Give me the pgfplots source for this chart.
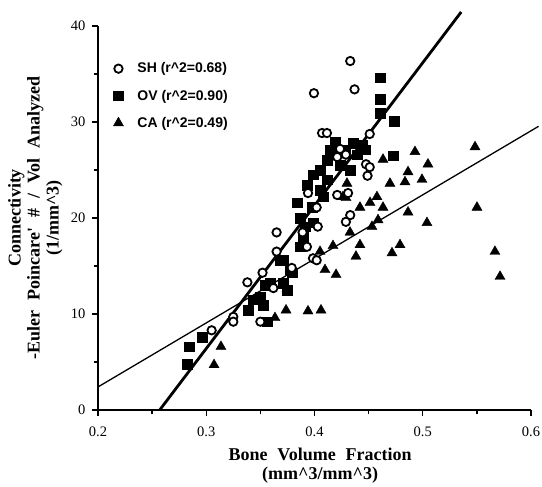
\documentclass[border=0pt]{standalone}
\usepackage{pgfplots}
\pgfplotsset{compat=1.18}
\usepackage{fontspec}
\setmainfont{Liberation Serif}
\setsansfont{Liberation Sans}
\newfontfamily\labelfont[WordSpace=2.2]{Liberation Serif}
\begin{document}
\begin{tikzpicture}
\begin{axis}[
  scale only axis, width=433pt, height=384pt,
  xmin=0.2, xmax=0.6, ymin=0, ymax=40,
  axis x line*=bottom, axis y line*=left,
  axis line style={line width=2pt, -},
  xtick={0.2,0.3,0.4,0.5,0.6}, ytick={0,10,20,30,40},
  minor x tick num=1, minor y tick num=1,
  tick align=outside,
  major tick length=6pt, minor tick length=4pt,
  every tick/.style={black, line width=1.4pt},
  /pgf/number format/assume math mode=true,
  xticklabel style={/pgf/number format/.cd, fixed, fixed zerofill, precision=1, /tikz/.cd, yshift=-7pt},
  yticklabel style={xshift=-3pt},
  tick label style={font=\fontsize{14.5}{14.5}\selectfont},
  label style={font=\labelfont\bfseries\fontsize{18}{19}\selectfont, align=center},
  xlabel={Bone Volume Fraction\\(mm\textasciicircum3/mm\textasciicircum3)},
  ylabel={Connectivity\\-Euler Poincare' \# / Vol Analyzed\\(1/mm\textasciicircum3)},
  xlabel style={at={(axis description cs:0.513,-0.146)}, anchor=center},
  ylabel style={at={(axis description cs:-0.145,0.5)}, anchor=center},
  legend style={at={(axis description cs:0.026,0.915)}, anchor=north west, draw=none, fill=none,
    font=\sffamily\bfseries\fontsize{14}{14}\selectfont, row sep=11.5pt},
  legend cell align=left,
  lgd/.style={legend image code/.code={\draw[##1] plot coordinates {(0pt,0pt)}; \path[draw=none] (-6pt,0pt) -- (17pt,0pt);}},
  clip=false,
]
\addlegendimage{only marks, lgd, mark=*, mark size=4.2pt, mark options={fill=white, draw=black, line width=1.8pt}}
\addlegendentry{SH (r\textasciicircum2=0.68)}
\addlegendimage{only marks, lgd, mark=square*, mark size=4.8pt, mark options={fill=black, draw=black, line width=0.4pt}}
\addlegendentry{OV (r\textasciicircum2=0.90)}
\addlegendimage{only marks, lgd, mark=triangle*, mark size=5.8pt, mark options={fill=black, draw=black, line width=0.4pt}}
\addlegendentry{CA (r\textasciicircum2=0.49)}

% OV
\addplot[forget plot, only marks, mark=square*, mark size=4.8pt, mark options={fill=black, draw=black, line width=0.4pt}] coordinates {
(0.4605,34.6) (0.4605,32.4) (0.4605,30.9) (0.4734,30.1) (0.4725,26.5) (0.4143,27.1)
(0.4356,27.8) (0.4439,27.6) (0.4282,27.1) (0.4393,26.6) (0.4116,26.0) (0.4236,25.5)
(0.4051,25.0) (0.4328,25.0) (0.3986,24.5) (0.4116,24.0) (0.3931,23.4) (0.4051,22.9)
(0.3838,21.6) (0.3977,21.1) (0.4079,22.2) (0.3866,20.0) (0.3912,19.1) (0.3986,19.5)
(0.3866,17.0) (0.3709,15.6) (0.3792,14.3) (0.3709,13.2) (0.3746,12.5) (0.3543,13.0)
(0.3589,13.2) (0.3497,11.8) (0.3432,11.5) (0.3386,10.4) (0.3524,10.9) (0.3561,9.2)
(0.2961,7.6) (0.2841,6.6) (0.2822,4.8) (0.3681,15.6) (0.3774,14.6) (0.3894,18.0)
(0.4189,27.9) (0.4467,27.1)
};
% CA
\addplot[forget plot, only marks, mark=triangle*, mark size=5.8pt, mark options={fill=black, draw=black, line width=0.4pt}] coordinates {
(0.5483,27.4) (0.4928,26.9) (0.5048,25.6) (0.4864,24.8) (0.4697,23.6) (0.4836,23.75)
(0.4993,24.0) (0.4633,26.1) (0.4577,22.2) (0.4300,23.6) (0.4291,22.1) (0.4513,21.6)
(0.4420,21.1) (0.4633,21.1) (0.4864,20.6) (0.5039,19.5) (0.5501,21.1) (0.4587,19.8)
(0.4531,19.1) (0.4328,18.5) (0.4790,17.2) (0.4716,16.35) (0.4420,17.2) (0.4383,16.0)
(0.4171,17.1) (0.4051,16.5) (0.4097,14.6) (0.4199,14.1) (0.5667,16.5) (0.5714,13.9)
(0.3940,10.3) (0.4060,10.4) (0.3737,10.4) (0.3635,9.6) (0.3136,6.6) (0.3072,4.7)
(0.3746,12.6) (0.4263,22.2)
};
% SH
\addplot[forget plot, only marks, mark=*, mark size=4.2pt, mark options={fill=white, draw=black, line width=1.8pt}] coordinates {
(0.433,36.35) (0.3995,33.0) (0.437,33.4) (0.407,28.85) (0.4115,28.85) (0.451,28.75)
(0.4236,27.2) (0.429,26.6) (0.4476,25.6) (0.451,25.3) (0.449,24.4) (0.394,22.6)
(0.421,22.4) (0.431,22.6) (0.402,21.1) (0.433,20.3) (0.429,19.6) (0.365,18.5)
(0.393,17.0) (0.365,16.5) (0.3986,15.8) (0.402,15.6) (0.379,14.8) (0.352,14.3)
(0.338,13.3) (0.362,12.7) (0.325,9.7) (0.325,9.2) (0.305,8.3) (0.350,9.2)
(0.389,18.5) (0.403,19.1) (0.421,26.35)
};
% fit lines
\addplot[forget plot, black, line width=2.8pt] coordinates {(0.257,0) (0.5355,41.46)};
\addplot[forget plot, black, line width=1.3pt] coordinates {(0.2,2.4) (0.607,29.55)};
\end{axis}
\pgfresetboundingbox
\useasboundingbox (current axis.south west) ++(-98pt,-77pt) rectangle ++(542pt,487pt);
\end{tikzpicture}
\end{document}
